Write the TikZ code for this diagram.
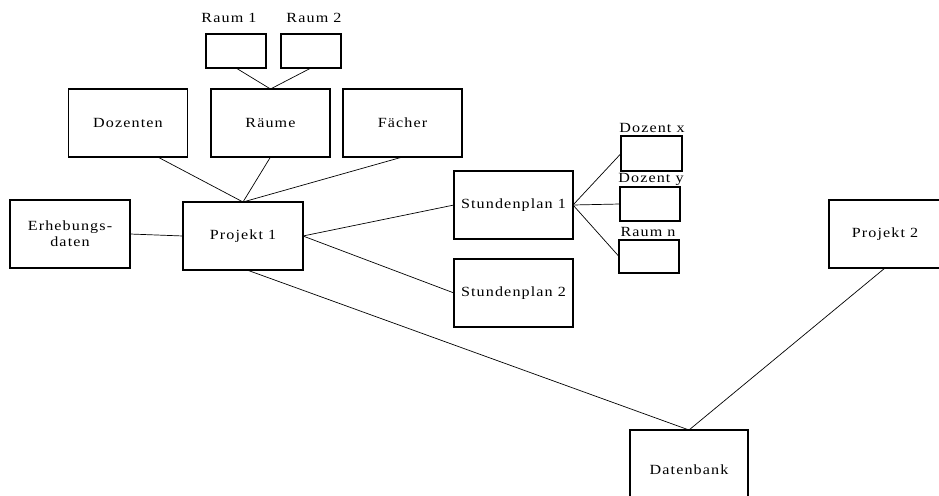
\documentclass[tikz,border=0pt]{standalone}
\usepackage{fontspec}
\setmainfont{Liberation Serif}[LetterSpace=8,FakeStretch=1.15]
\usetikzlibrary{calc}
\begin{document}
\begin{tikzpicture}[x=1pt,y=-1pt,
  box/.style={draw,line width=1.8pt,inner sep=0pt,outer sep=0pt,font=\fontsize{14}{16}\selectfont,align=center},
  small/.style={draw,line width=1.8pt,inner sep=0pt,outer sep=0pt,minimum width=60pt,minimum height=34pt},
  lbl/.style={inner sep=0pt,font=\fontsize{14}{16}\selectfont},
  conn/.style={line width=0.7pt}]
\useasboundingbox (0,0) rectangle (939,495);
% small boxes
\node[small] (r1) at (236,51) {};
\node[small] (r2) at (311,51) {};
\node[lbl] (r1l) at (229,18) {Raum 1};
\node[lbl] (r2l) at (314,18) {Raum 2};
% main boxes
\node[box,minimum width=119pt,minimum height=68pt] (doz) at (128,123) {Dozenten};
\node[box,minimum width=119pt,minimum height=68pt] (rae) at (270.5,123) {Räume};
\node[box,minimum width=119pt,minimum height=68pt] (fae) at (402.5,123) {Fächer};
\node[box,minimum width=120pt,minimum height=68pt] (erh) at (70,234) {Erhebungs-\\daten};
\node[box,minimum width=120pt,minimum height=68pt] (p1) at (243,236) {Projekt 1};
\node[box,minimum width=119pt,minimum height=68pt] (s1) at (513.5,205) {Stundenplan 1};
\node[box,minimum width=119pt,minimum height=68pt] (s2) at (513.5,293) {Stundenplan 2};
\node[box,minimum width=112pt,minimum height=68pt] (p2) at (885,234) {Projekt 2};
\node[box,minimum width=118pt,minimum height=80pt] (db) at (689,470) {Datenbank};
% right small boxes
\node[small,minimum width=61pt,minimum height=35pt] (dx) at (651.5,153.5) {};
\node[small] (dy) at (650,204) {};
\node[small,minimum height=33pt] (rn) at (649,256.5) {};
\node[lbl] (dxl) at (652,128) {Dozent x};
\node[lbl] (dyl) at (651,179) {Dozent y};
\node[lbl] (rnl) at (648,232) {Raum n};
% connectors
\draw[conn] (r1.south) -- (rae.north);
\draw[conn] (r2.south) -- (rae.north);
\draw[conn] ($(doz.south)!0.5!(doz.south east)$) -- (p1.north);
\draw[conn] (rae.south) -- (p1.north);
\draw[conn] (fae.south) -- (p1.north);
\draw[conn] (erh.east) -- (p1.west);
\draw[conn] (p1.east) -- (s1.west);
\draw[conn] (p1.east) -- (s2.west);
\draw[conn] (s1.east) -- (dx.west);
\draw[conn] (s1.east) -- (dy.west);
\draw[conn] (s1.east) -- (rn.west);
\draw[conn] ($(p1.south)+(4,0)$) -- (db.north);
\draw[conn] (p2.south) -- (db.north);
\end{tikzpicture}
\end{document}
